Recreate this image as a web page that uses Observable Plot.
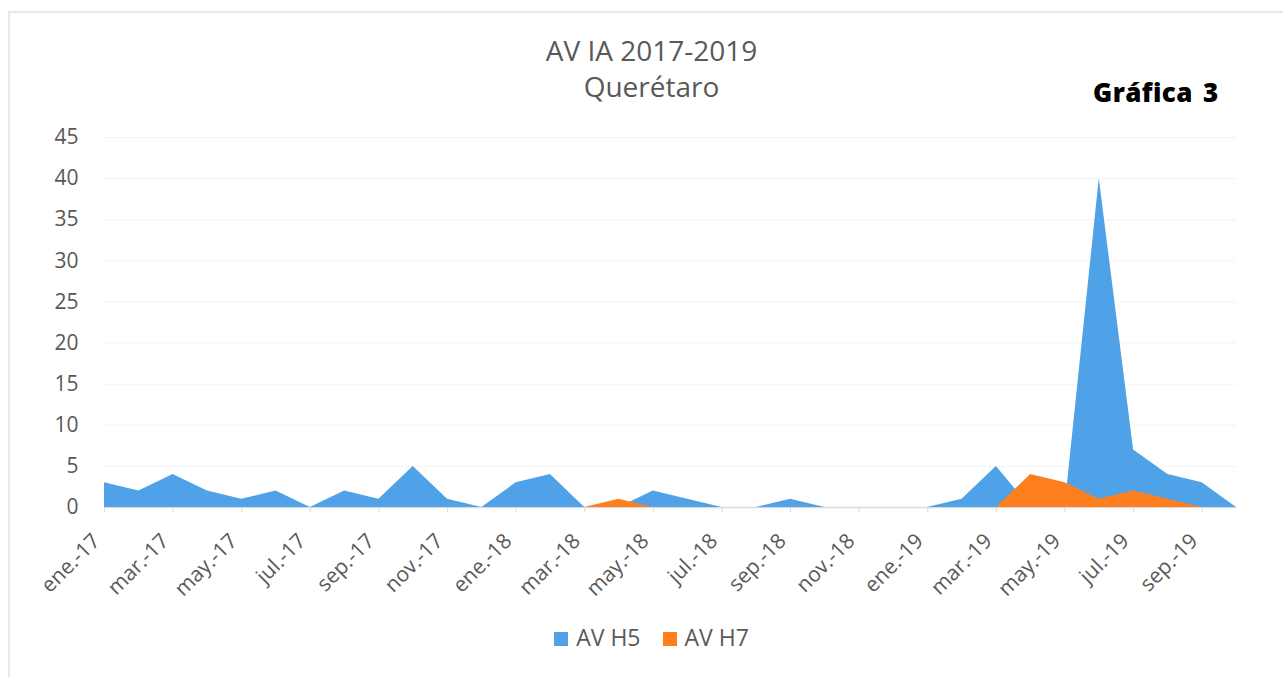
<!DOCTYPE html>
<html>
<head>
<meta charset="utf-8">
<script src="https://cdn.jsdelivr.net/npm/d3@7"></script>
<script src="https://cdn.jsdelivr.net/npm/@observablehq/plot@0.6"></script>
<style>
  html, body { margin: 0; padding: 0; background: #fff; }
  #wrap { position: relative; width: 1283px; height: 677px; overflow: hidden; font-family: "Open Sans", sans-serif; }
  #frame { position: absolute; left: 8px; top: 11px; width: 1300px; height: 700px; border-top: 2px solid #e8e8e8; border-left: 2px solid #e8e8e8; }
  #chart { position: absolute; left: 0; top: 0; }
  .title { position: absolute; left: 0; width: 1303px; text-align: center; color: #595959; font-size: 28px; line-height: 32px; }
  #g3 { position: absolute; left: 1093px; top: 79px; font-size: 26px; font-weight: 800; color: #000; letter-spacing: 0.4px; word-spacing: 3px; line-height: 1; }
  #legend { position: absolute; top: 624px; left: 0; width: 1303px; text-align: center; color: #595959; font-size: 23px; line-height: 26px; }
  #legend span.item { display: inline-block; margin: 0 11px; }
  #legend span.sw { display: inline-block; width: 14px; height: 14px; margin-right: 8px; vertical-align: 0px; }
</style>
</head>
<body>
<div id="wrap">
  <div id="frame"></div>
  <div id="chart"></div>
  <div class="title" style="top:34px">AV IA 2017-2019</div>
  <div class="title" style="top:70px">Querétaro</div>
  <div id="g3">Gráfica 3</div>
  <div id="legend"></div>
</div>
<script>
const months = ["ene.-17","feb.-17","mar.-17","abr.-17","may.-17","jun.-17","jul.-17","ago.-17","sep.-17","oct.-17","nov.-17","dic.-17",
                "ene.-18","feb.-18","mar.-18","abr.-18","may.-18","jun.-18","jul.-18","ago.-18","sep.-18","oct.-18","nov.-18","dic.-18",
                "ene.-19","feb.-19","mar.-19","abr.-19","may.-19","jun.-19","jul.-19","ago.-19","sep.-19","oct.-19"];
const avH5 = [3,2,4,2,1,2,0,2,1,5,1,0, 3,4,0,0,2,1,0,0,1,0,0,0, 0,1,5,0,0,40,7,4,3,0];
const avH7 = [0,0,0,0,0,0,0,0,0,0,0,0, 0,0,0,1,0,0,0,0,0,0,0,0, 0,0,0,4,3,1,2,1,0,0];
const seriesNames = ["AV H5","AV H7"];
const seriesColors = ["#4fa1e8","#ff7f1e"];
const yTicks = [0,5,10,15,20,25,30,35,40,45];
const xTickIdx = months.map((m,i)=>i).filter(i => i % 2 === 0);

const d5 = months.map((m,i)=>({i, month:m, v:avH5[i]}));
const d7 = months.map((m,i)=>({i, month:m, v:avH7[i]}));

const chart = Plot.plot({
  width: 1283,
  height: 612,
  marginLeft: 104,
  marginRight: 47,
  marginTop: 137,
  marginBottom: 105,
  x: {type: "linear", domain: [0, months.length - 1], label: null},
  y: {domain: [0, 45], label: null},
  style: {fontFamily: "Open Sans, sans-serif", fontSize: "21px", color: "#595959", background: "transparent"},
  marks: [
    Plot.gridY(yTicks, {stroke: "#f2f2f2", strokeOpacity: 1}),
    Plot.ruleY([0], {stroke: "#d9d9d9", strokeWidth: 1.5}),
    Plot.axisX({ticks: xTickIdx, tickSize: 5, stroke: "#d9d9d9", tickFormat: () => "", strokeOpacity: 1, label: null}),
    Plot.areaY(d5, {x: "i", y: "v", fill: seriesColors[0]}),
    Plot.areaY(d7, {x: "i", y: "v", fill: seriesColors[1]}),
    Plot.axisY({ticks: yTicks, tickSize: 0, tickPadding: 26, fontSize: 21, fill: "#595959", label: null}),
    Plot.axisX({ticks: xTickIdx, tickSize: 0, tickPadding: 30, tickRotate: -45, dx: -8,
                tickFormat: i => months[i], fontSize: 21, fill: "#595959", label: null})
  ]
});
document.getElementById("chart").appendChild(chart);

const leg = document.getElementById("legend");
seriesNames.forEach((n, k) => {
  const it = document.createElement("span");
  it.className = "item";
  const sw = document.createElement("span");
  sw.className = "sw";
  sw.style.background = seriesColors[k];
  it.appendChild(sw);
  it.appendChild(document.createTextNode(n));
  leg.appendChild(it);
});
</script>
</body>
</html>
